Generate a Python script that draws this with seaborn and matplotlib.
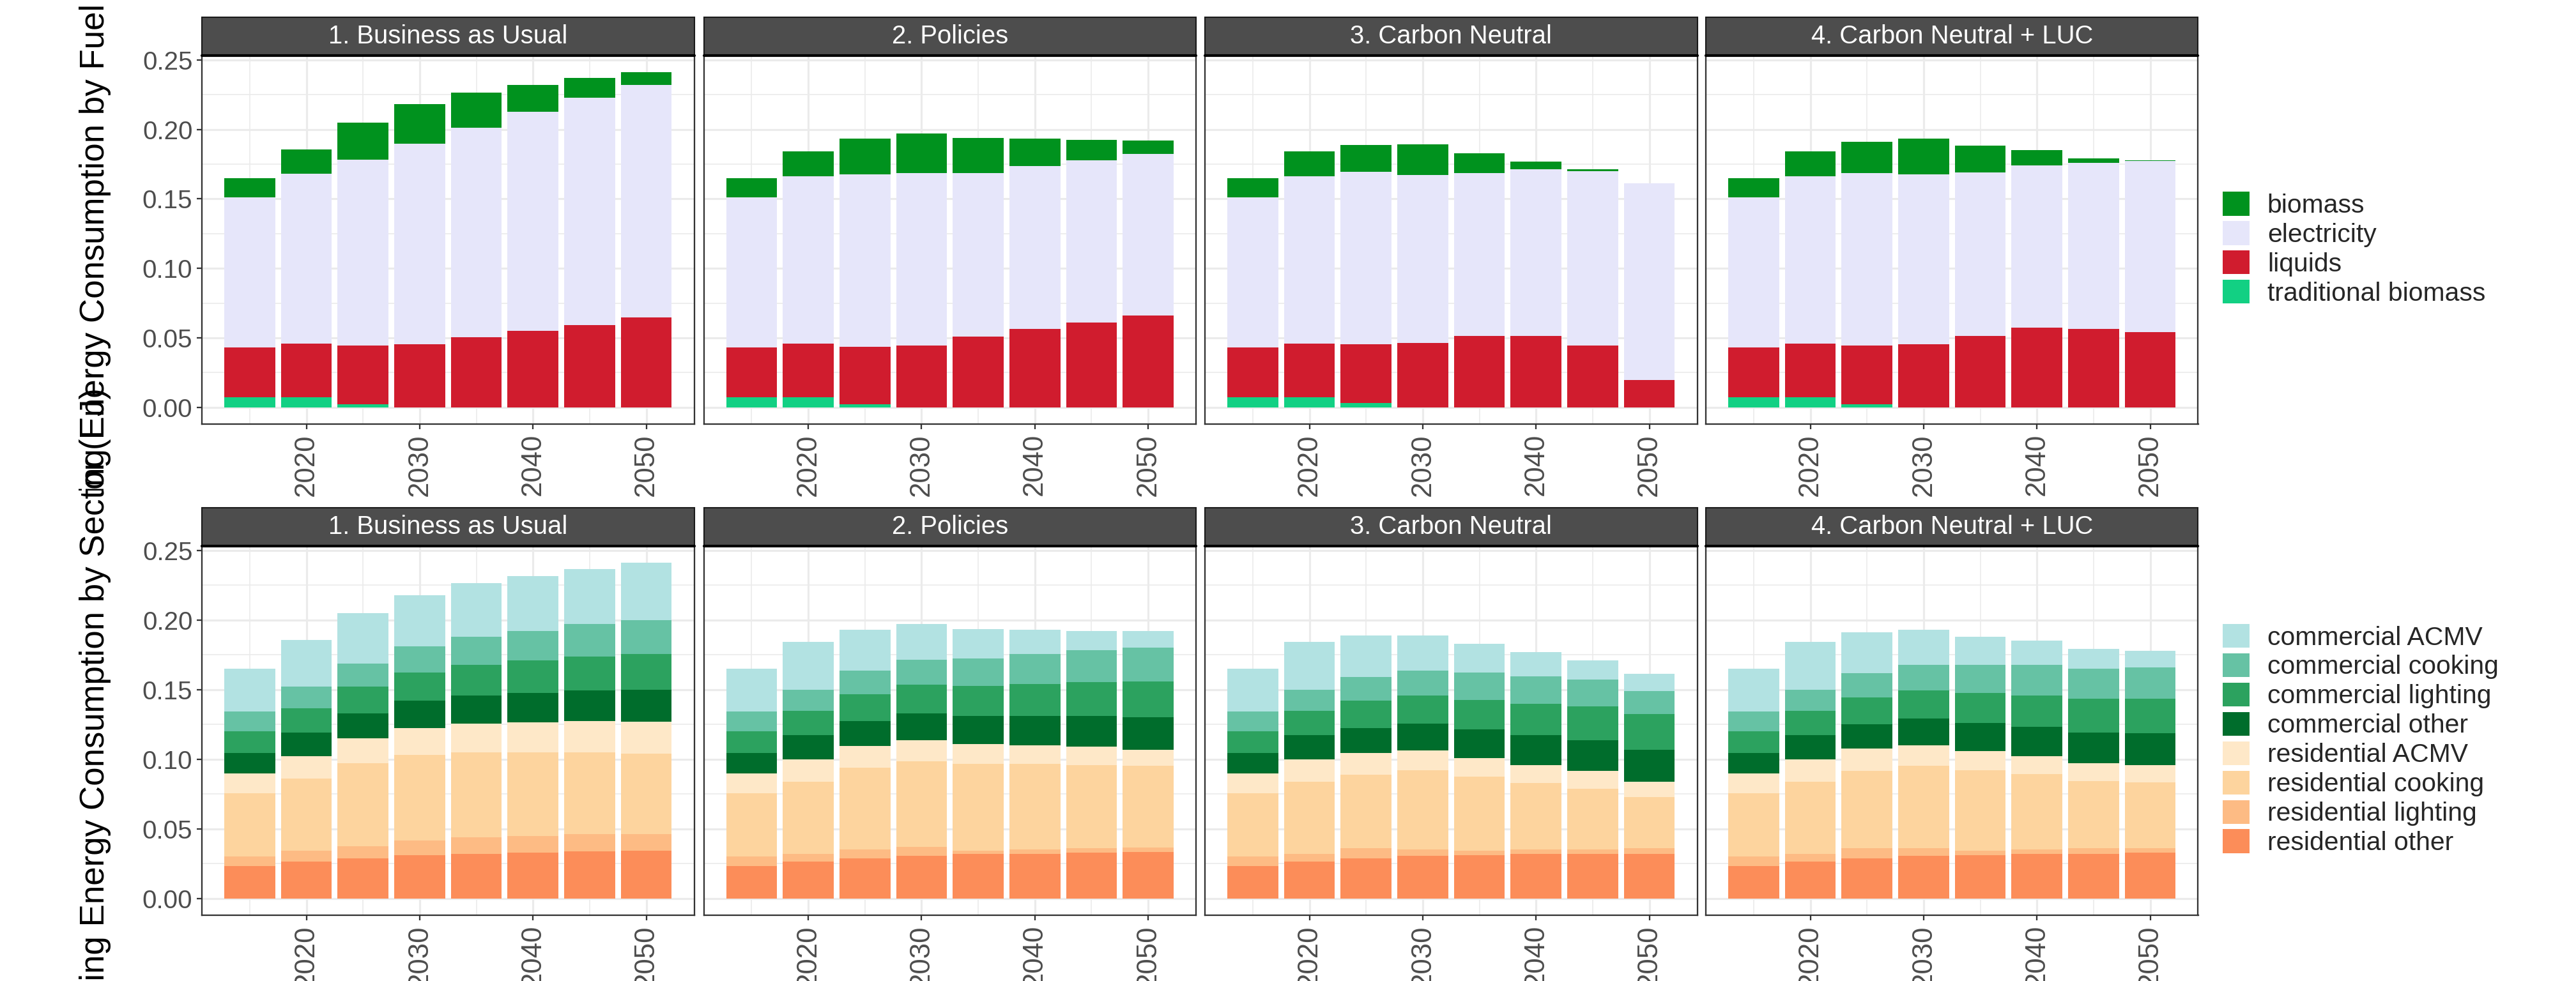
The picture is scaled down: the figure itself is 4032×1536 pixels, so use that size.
import numpy as np
import pandas as pd
import matplotlib
matplotlib.use("Agg")
import matplotlib.pyplot as plt
from matplotlib.patches import Patch, Rectangle
from matplotlib.ticker import MultipleLocator, FormatStrFormatter
import seaborn as sns

### data (EJ), rows = scenarios, columns = years
years = [2015, 2020, 2025, 2030, 2035, 2040, 2045, 2050]
scenarios = ["1. Business as Usual", "2. Policies", "3. Carbon Neutral", "4. Carbon Neutral + LUC"]

fuels = ["biomass", "electricity", "liquids", "traditional biomass"]
fuel_colors = ["#00921E", "#E6E6FA", "#D01C2E", "#12D083"]

biomass = [[.0136, .0174, .0266, .0287, .0253, .0194, .0143, .0089],
           [.0136, .0178, .0255, .0285, .0251, .0196, .0147, .0095],
           [.0136, .0178, .0193, .0220, .0142, .0055, .0014, .0000],
           [.0136, .0178, .0225, .0256, .0194, .0109, .0031, .0004]]
electricity = [[.1083, .1221, .1335, .1441, .1508, .1574, .1632, .1677],
               [.1083, .1204, .1243, .1239, .1179, .1172, .1165, .1161],
               [.1083, .1204, .1243, .1208, .1170, .1197, .1256, .1415],
               [.1083, .1204, .1243, .1225, .1174, .1167, .1194, .1230]]
liquids = [[.0358, .0389, .0423, .0454, .0503, .0552, .0594, .0645],
           [.0358, .0389, .0410, .0447, .0507, .0565, .0612, .0663],
           [.0358, .0389, .0423, .0465, .0516, .0516, .0443, .0198],
           [.0358, .0389, .0419, .0452, .0516, .0574, .0565, .0543]]
trad_biomass = [[.0071, .0071, .0024, 0, 0, 0, 0, 0],
                [.0071, .0071, .0024, 0, 0, 0, 0, 0],
                [.0071, .0071, .0029, 0, 0, 0, 0, 0],
                [.0071, .0071, .0024, 0, 0, 0, 0, 0]]

sectors = ["commercial ACMV", "commercial cooking", "commercial lighting", "commercial other",
           "residential ACMV", "residential cooking", "residential lighting", "residential other"]
sector_colors = ["#B2E2E2", "#66C2A4", "#2CA25F", "#006D2C",
                 "#FEE8C8", "#FDD49E", "#FDBB84", "#FC8D59"]

com_acmv = [[.0307, .0334, .0359, .0370, .0386, .0395, .0397, .0413],
            [.0307, .0341, .0293, .0254, .0211, .0177, .0141, .0118],
            [.0307, .0341, .0298, .0252, .0207, .0175, .0141, .0120],
            [.0307, .0341, .0293, .0252, .0206, .0175, .0143, .0120]]
com_cooking = [[.0143, .0156, .0168, .0189, .0202, .0215, .0232, .0243],
               [.0143, .0154, .0174, .0182, .0200, .0215, .0229, .0243],
               [.0143, .0154, .0170, .0179, .0197, .0198, .0193, .0168],
               [.0143, .0154, .0171, .0184, .0202, .0216, .0216, .0221]]
com_lighting = [[.0152, .0175, .0193, .0202, .0216, .0230, .0243, .0254],
                [.0152, .0175, .0189, .0207, .0216, .0230, .0243, .0257],
                [.0152, .0175, .0193, .0202, .0211, .0224, .0243, .0255],
                [.0152, .0175, .0193, .0202, .0212, .0225, .0243, .0252]]
com_other = [[.0150, .0166, .0179, .0193, .0202, .0211, .0220, .0229],
             [.0150, .0171, .0182, .0193, .0202, .0211, .0220, .0232],
             [.0150, .0171, .0179, .0193, .0203, .0212, .0220, .0229],
             [.0150, .0171, .0177, .0193, .0202, .0211, .0220, .0229]]
res_acmv = [[.0143, .0163, .0179, .0197, .0207, .0216, .0225, .0230],
            [.0143, .0161, .0156, .0152, .0143, .0134, .0130, .0118],
            [.0143, .0161, .0159, .0145, .0136, .0133, .0125, .0113],
            [.0143, .0161, .0161, .0150, .0140, .0132, .0125, .0120]]
res_cooking = [[.0454, .0520, .0593, .0613, .0613, .0604, .0590, .0581],
               [.0454, .0522, .0584, .0611, .0620, .0611, .0597, .0583],
               [.0454, .0522, .0529, .0566, .0533, .0477, .0436, .0368],
               [.0454, .0522, .0556, .0588, .0575, .0542, .0486, .0477]]
res_lighting = [[.0068, .0078, .0091, .0107, .0116, .0120, .0125, .0120],
                [.0068, .0055, .0068, .0068, .0027, .0032, .0036, .0036],
                [.0068, .0055, .0073, .0050, .0028, .0032, .0032, .0037],
                [.0068, .0055, .0073, .0059, .0032, .0032, .0037, .0032]]
res_other = [[.0232, .0263, .0286, .0309, .0322, .0327, .0336, .0341],
             [.0232, .0263, .0286, .0304, .0318, .0322, .0327, .0332],
             [.0232, .0263, .0286, .0304, .0313, .0318, .0322, .0322],
             [.0232, .0263, .0286, .0304, .0313, .0318, .0322, .0327]]

fuel_data = dict(zip(fuels, [biomass, electricity, liquids, trad_biomass]))
sector_data = dict(zip(sectors, [com_acmv, com_cooking, com_lighting, com_other,
                                 res_acmv, res_cooking, res_lighting, res_other]))


def to_long(series) :
    rows = []
    for name, vals in series.items() :
        for s, scen in enumerate(scenarios) :
            for y, yr in enumerate(years) :
                rows.append({"scenario": scen, "year": yr, "group": name, "value": vals[s][y]})
    return pd.DataFrame(rows)


df_fuel = to_long(fuel_data)
df_sector = to_long(sector_data)

sns.set_style("white")
plt.rcParams["font.family"] = ["Liberation Sans", "DejaVu Sans"]

W, H = 4032, 1536
fig = plt.figure(figsize=(W / 300, H / 300), dpi=300)

col_left = [316, 1101.5, 1886, 2670]
panel_w = 770.5
row_box = [(87, 664), (855, 1433)]   # top / bottom pixel of each panel row
strip_px = 60

step = years[1] - years[0]
bin_range = (years[0] - step / 2, years[-1] + step / 2)
bar_lo, bar_hi = years[0] - 0.45 * step, years[-1] + 0.45 * step
xpad = 0.05 * (bar_hi - bar_lo)

grid_col = "#EBEBEB"
axis_col = "#333333"
text_col = "#4D4D4D"


def draw_row(df, order, colors, r) :
    top_px, bot_px = row_box[r]
    ymax = df.groupby(["scenario", "year"])["value"].sum().max()
    pal = dict(zip(order, colors))
    for c, scen in enumerate(scenarios) :
        ax = fig.add_axes([col_left[c] / W, 1 - bot_px / H, panel_w / W, (bot_px - top_px) / H])
        sns.histplot(data=df[df["scenario"] == scen], x="year", weights="value",
                     hue="group", hue_order=order, palette=pal, multiple="stack",
                     binwidth=step, binrange=bin_range, shrink=0.9, alpha=1,
                     linewidth=0, edgecolor="none", legend=False, ax=ax)
        ax.set_xlim(bar_lo - xpad, bar_hi + xpad)
        ax.set_ylim(-0.05 * ymax, 1.05 * ymax)
        ax.set_xlabel("")
        ax.set_ylabel("")

        #---------grid like theme_bw
        ax.set_axisbelow(True)
        ax.xaxis.set_major_locator(MultipleLocator(10))
        ax.xaxis.set_minor_locator(MultipleLocator(5))
        ax.yaxis.set_major_locator(MultipleLocator(0.05))
        ax.yaxis.set_minor_locator(MultipleLocator(0.025))
        ax.yaxis.set_major_formatter(FormatStrFormatter("%.2f"))
        ax.grid(which="major", color=grid_col, linewidth=0.75)
        ax.grid(which="minor", color=grid_col, linewidth=0.4)
        for sp in ax.spines.values() :
            sp.set_color(axis_col)
            sp.set_linewidth(0.55)
            sp.set_visible(True)
        ax.tick_params(which="minor", length=0)
        ax.tick_params(axis="x", which="major", length=2, width=0.55, color=axis_col,
                       labelsize=10.5, labelcolor=text_col, labelrotation=90, pad=1.6,
                       bottom=True)
        if c == 0 :
            ax.tick_params(axis="y", which="major", length=2, width=0.55, color=axis_col,
                           labelsize=9.7, labelcolor=text_col, pad=1.5, left=True)
        else :
            ax.tick_params(axis="y", which="major", length=0, labelleft=False)

        #---------facet strip
        sh = strip_px / (bot_px - top_px)
        ax.add_patch(Rectangle((0, 1), 1, sh, transform=ax.transAxes, clip_on=False,
                               facecolor="#4D4D4D", edgecolor="#1A1A1A", linewidth=0.5, zorder=5))
        ax.plot([0, 1], [1, 1], transform=ax.transAxes, color="black", linewidth=1.0,
                clip_on=False, zorder=6)
        ax.text(0.5, 1 + sh / 2, scen, transform=ax.transAxes, ha="center", va="center",
                color="white", fontsize=9.6, zorder=7)

    handles = [Patch(facecolor=pal[k], edgecolor="none", label=k) for k in order]
    fig.legend(handles=handles, loc="center left",
               bbox_to_anchor=(3479 / W, 1 - ((top_px + bot_px) / 2 + 14) / H),
               frameon=False, fontsize=9.8, handlelength=1.03, handleheight=1.03,
               handletextpad=0.68, labelspacing=0.13, borderpad=0, borderaxespad=0)


draw_row(df_fuel, fuels, fuel_colors, 0)
draw_row(df_sector, sectors, sector_colors, 1)

### y labels overlap like in the original combined figure
fig.text(0.037, 1 - 392 / H, "Building Energy Consumption by Fuel (EJ)", rotation=90,
         ha="center", va="center", fontsize=12.7, color="black", zorder=1)
fig.patches.append(Rectangle((0, 0), 200 / W, 0.5, transform=fig.transFigure,
                             facecolor="white", edgecolor="none", zorder=1.5))
fig.text(0.037, 1 - 1130 / H, "Building Energy Consumption by Sector (EJ)", rotation=90,
         ha="center", va="center", fontsize=12.7, color="black", zorder=2)

fig.savefig("out.png", dpi=300, facecolor="white")
